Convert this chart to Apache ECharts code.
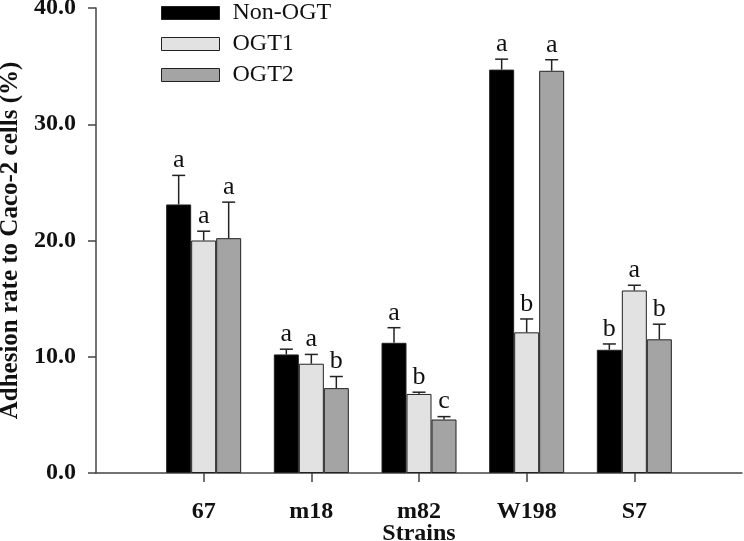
<!DOCTYPE html>
<html>
<head>
<meta charset="utf-8">
<script src="https://cdn.jsdelivr.net/npm/echarts@6/dist/echarts.min.js"></script>
<style>
html,body{margin:0;padding:0;background:#fff;overflow:hidden;}
#chart{width:744px;height:541px;}
</style>
</head>
<body>
<div id="chart"></div>
<script>
// ---- data ----
const categories = ['67', 'm18', 'm82', 'W198', 'S7'];
const seriesNames = ['Non-OGT', 'OGT1', 'OGT2'];
const nonOGT    = [23.1, 10.2, 11.2, 34.7, 10.6];
const nonOGTErr = [2.5, 0.45, 1.3, 0.9, 0.5];
const nonOGTLetters = ['a', 'a', 'a', 'a', 'b'];
const ogt1    = [20.0, 9.4, 6.8, 12.1, 15.7];
const ogt1Err = [0.8, 0.8, 0.15, 1.15, 0.45];
const ogt1Letters = ['a', 'a', 'b', 'b', 'a'];
const ogt2    = [20.2, 7.3, 4.6, 34.6, 11.5];
const ogt2Err = [3.1, 1.0, 0.25, 0.95, 1.3];
const ogt2Letters = ['a', 'b', 'c', 'a', 'b'];
const yTicks = [0, 10, 20, 30, 40];
const xAxisTitle = 'Strains';
const yAxisTitle = 'Adhesion rate to Caco-2 cells (%)';

// ---- build ----
const FONT = 'Liberation Serif';
const BAR_W = 25;
const padded = [''].concat(categories, ['']);
const colors = ['#000000', '#e2e2e2', '#a4a4a4'];
const values = [nonOGT, ogt1, ogt2];
const errs = [nonOGTErr, ogt1Err, ogt2Err];
const letters = [nonOGTLetters, ogt1Letters, ogt2Letters];

const series = [];
seriesNames.forEach((name, s) => {
  series.push({
    name: name,
    type: 'bar',
    barWidth: BAR_W,
    barGap: '0%',
    data: [null].concat(values[s], [null]),
    itemStyle: { color: colors[s], borderColor: '#222', borderWidth: 1 },
    silent: true
  });
});
seriesNames.forEach((name, s) => {
  const offset = (s - 1) * BAR_W;
  series.push({
    type: 'custom',
    name: name + '-err',
    silent: true,
    z: 5,
    encode: { x: 0, y: 1 },
    data: categories.map((c, i) => [i + 1, values[s][i], errs[s][i], letters[s][i]]),
    renderItem: function (params, api) {
      const x = api.value(0);
      const v = api.value(1);
      const e = api.value(2);
      const idx = params.dataIndex;
      const base = api.coord([x, v]);
      const top = api.coord([x, v + e]);
      const cx = base[0] + offset;
      const cap = 13;
      return {
        type: 'group',
        children: [
          { type: 'line', shape: { x1: cx, y1: base[1], x2: cx, y2: top[1] },
            style: { stroke: '#222', lineWidth: 1.5 } },
          { type: 'line', shape: { x1: cx - cap / 2, y1: top[1], x2: cx + cap / 2, y2: top[1] },
            style: { stroke: '#222', lineWidth: 1.5 } },
          { type: 'text', x: cx, y: top[1] - 2,
            style: { text: letters[s][idx], fill: '#111', font: '26px "' + FONT + '"',
                     align: 'center', verticalAlign: 'bottom' } }
        ]
      };
    }
  });
});

const chart = echarts.init(document.getElementById('chart'));
chart.setOption({
  animation: false,
  backgroundColor: '#fff',
  title: {
    text: xAxisTitle,
    left: 419,
    top: 522,
    padding: 0,
    textAlign: 'center',
    textStyle: { fontFamily: FONT, fontSize: 24, fontWeight: 'bold', color: '#111' }
  },
  grid: { left: 96, right: 2, top: 8, bottom: 68, containLabel: false, outerBoundsMode: 'none' },
  legend: {
    data: seriesNames,
    orient: 'vertical',
    left: 161,
    top: 1,
    padding: 0,
    itemWidth: 58,
    itemHeight: 13,
    itemGap: 7,
    icon: 'rect',
    selectedMode: false,
    itemStyle: { borderColor: '#222', borderWidth: 1 },
    textStyle: { fontFamily: FONT, fontSize: 24, color: '#111', padding: [0, 0, 0, 8], lineHeight: 24 }
  },
  xAxis: {
    type: 'category',
    data: padded,
    boundaryGap: false,
    axisLine: { lineStyle: { color: '#444', width: 1.5 } },
    axisTick: { length: 9, lineStyle: { color: '#444', width: 1.5 },
                interval: function (i, v) { return v !== ''; } },
    axisLabel: { fontFamily: FONT, fontSize: 24, fontWeight: 'bold', color: '#111', margin: 27,
                 interval: 0 },
    splitLine: { show: false }
  },
  yAxis: {
    type: 'value',
    min: yTicks[0],
    max: yTicks[yTicks.length - 1],
    interval: 10,
    name: yAxisTitle,
    nameLocation: 'middle',
    nameGap: 62,
    nameTextStyle: { fontFamily: FONT, fontSize: 25, fontWeight: 'bold', color: '#111' },
    axisLine: { show: true, lineStyle: { color: '#444', width: 1.5 } },
    axisTick: { show: true, length: 8, lineStyle: { color: '#444', width: 1.5 } },
    axisLabel: { fontFamily: FONT, fontSize: 24, fontWeight: 'bold', color: '#111', margin: 20,
                 formatter: v => v.toFixed(1) },
    splitLine: { show: false }
  },
  series: series
});
</script>
</body>
</html>
